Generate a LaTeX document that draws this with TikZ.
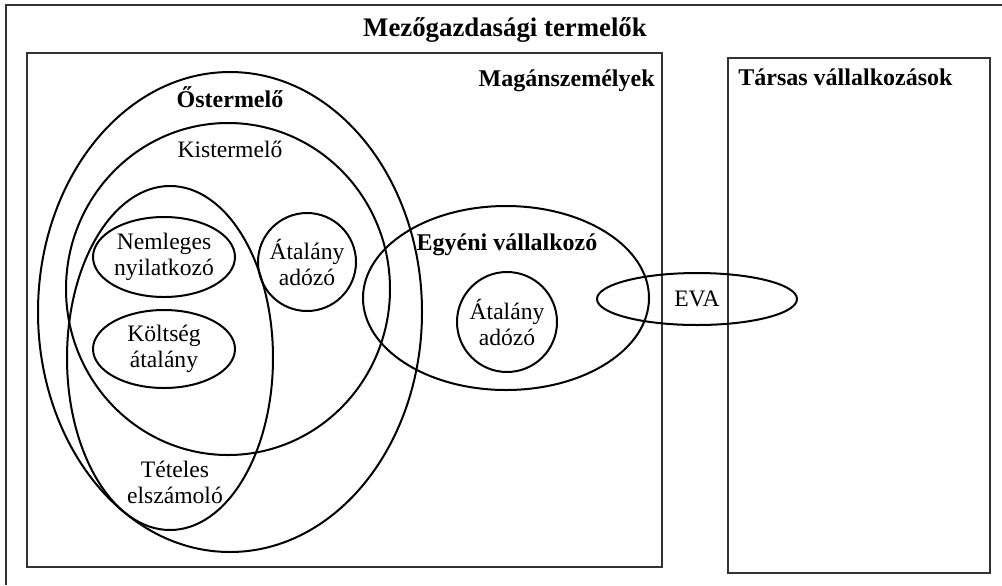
\documentclass[tikz,border=0pt]{standalone}
\usepackage{fontspec}
\setmainfont{Liberation Serif}
\usetikzlibrary{positioning,shapes.geometric}

\begin{document}
\begin{tikzpicture}[x=0.5pt, y=-0.5pt,
  set/.style={draw=black, line width=1pt, ellipse, inner sep=0pt, outer sep=0pt},
  frame/.style={draw=black!80, line width=1.3pt, inner sep=0pt, outer sep=0pt},
  lbl/.style={font=\fontsize{11.8}{13}\selectfont, align=center, inner sep=0pt},
  head/.style={font=\fontsize{12}{14}\selectfont\bfseries, inner sep=0pt}
]
\useasboundingbox (0,0) rectangle (1002,585);
\draw[frame] (6,585) |- (1002,5);
\node[head, font=\fontsize{13.4}{16}\selectfont\bfseries, anchor=base] (title) at (505,36) {Mezőgazdasági termelők};

\node[frame, minimum width=317.5pt, minimum height=257pt] (magan) at (344.5,310) {};
\node[frame, minimum width=131pt, minimum height=257.5pt] (tarsas) at (859,315.5) {};
\node[head, anchor=base east] (maganlbl) at (655,86) {Magánszemélyek};
\node[head, anchor=base west] (tarsaslbl) at (738,85) {Társas vállalkozások};

\node[set, minimum width=192pt, minimum height=240pt] (oster) at (230,312) {};
\node[set, minimum width=162pt, minimum height=166pt] (kister) at (228,289) {};
\node[set, minimum width=103pt, minimum height=172pt] (teteles) at (170,358) {};
\node[set, lbl, minimum width=71pt, minimum height=40pt] (nemleges) at (164,257) {Nemleges\\nyilatkozó};
\node[set, lbl, minimum width=71pt, minimum height=39pt] (koltseg) at (164,349) {Költség\\átalány};
\node[set, lbl, circle, minimum size=49pt] (atalany) at (307,262) {Átalány\\adózó};

\node[set, minimum width=143pt, minimum height=92pt] (egyeni) at (506,298) {};
\node[set, lbl, circle, minimum size=50pt] (egyatalany) at (507,322) {Átalány\\adózó};
\node[set, lbl, minimum width=100pt, minimum height=26pt] (eva) at (697,299) {EVA};

\node[head, anchor=base] (osterlbl) at (230,107) {Őstermelő};
\node[lbl, anchor=base] (kisterlbl) at (230,157) {Kistermelő};
\node[head, anchor=base] (egyenilbl) at (507,250) {Egyéni vállalkozó};
\node[lbl] (teteleslbl) at (175,482) {Tételes\\elszámoló};
\end{tikzpicture}
\end{document}
